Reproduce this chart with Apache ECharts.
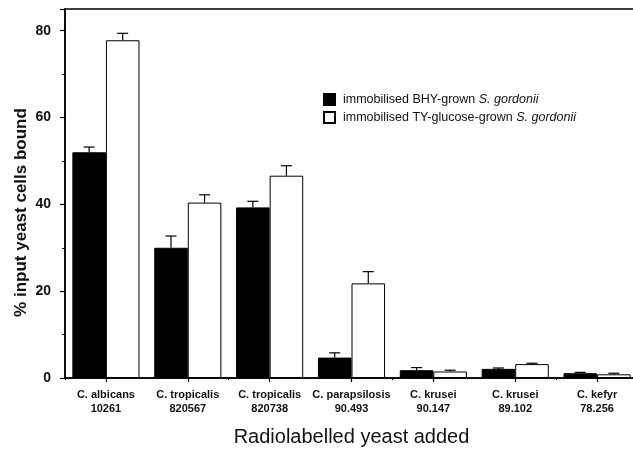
<!DOCTYPE html>
<html>
<head>
<meta charset="utf-8">
<script src="https://cdn.jsdelivr.net/npm/echarts@6/dist/echarts.min.js"></script>
<style>html,body{margin:0;padding:0;background:#fff}#c{width:633px;height:451px}</style>
</head>
<body>
<div id="c"></div>
<script>
var categories = ['C. albicans\n10261','C. tropicalis\n820567','C. tropicalis\n820738','C. parapsilosis\n90.493','C. krusei\n90.147','C. krusei\n89.102','C. kefyr\n78.256'];
var bhyValues = [52.0, 30.0, 39.3, 4.7, 1.8, 2.1, 1.1];
var bhyErrors = [1.2, 2.7, 1.4, 1.1, 0.6, 0.2, 0.2];
var tyValues = [77.8, 40.4, 46.6, 21.8, 1.5, 3.2, 0.85];
var tyErrors = [1.6, 1.8, 2.3, 2.7, 0.3, 0.2, 0.25];
var yTicks = [0, 20, 40, 60, 80];

var FONT = '"Liberation Sans", Arial, sans-serif';
function errData(vals, errs){ return vals.map(function(v,i){ return [i, v, errs[i]]; }); }
function errRender(frac){
  return function(params, api){
    var i = api.value(0), v = api.value(1), e = api.value(2);
    var band = api.size([1,0])[0];
    var p0 = api.coord([i, v]), p1 = api.coord([i, v+e]);
    var cx = p0[0] + frac*band;
    var half = 5.5;
    var st = {stroke:'#000', lineWidth:1.2};
    return {type:'group', children:[
      {type:'line', shape:{x1:cx,y1:p0[1],x2:cx,y2:p1[1]}, style:st},
      {type:'line', shape:{x1:cx-half,y1:p1[1],x2:cx+half,y2:p1[1]}, style:st}
    ]};
  };
}
var chart = echarts.init(document.getElementById('c'), null, {renderer:'canvas'});
chart.setOption({
  animation:false,
  backgroundColor:'#fff',
  grid:{left:65, top:9, width:573, height:369, outerBoundsMode:'none', containLabel:false, show:true, borderColor:'#000', borderWidth:1.5, backgroundColor:'transparent'},
  legend:{
    orient:'vertical', left:318, top:88, itemWidth:11, itemHeight:11, itemGap:5,
    icon:'rect',
    data:['bhy','ty'],
    formatter:function(n){ return n==='bhy' ? '{n|immobilised BHY-grown }{i|S. gordonii}' : '{n|immobilised TY-glucose-grown }{i|S. gordonii}'; },
    textStyle:{fontFamily:FONT, fontSize:12.5, color:'#111', padding:[0,0,0,3],
      rich:{n:{fontFamily:FONT, fontSize:12.5, color:'#111'}, i:{fontFamily:FONT, fontSize:12.5, fontStyle:'italic', color:'#111'}}}
  },
  xAxis:[{
    type:'category', data:categories,
    axisLine:{lineStyle:{color:'#000', width:1.5}},
    axisTick:{show:true, alignWithLabel:true, length:4, lineStyle:{color:'#000', width:1.2}},
    axisLabel:{fontFamily:FONT, fontSize:11, fontWeight:'bold', color:'#111', margin:10, lineHeight:14, interval:0},
    name:'Radiolabelled yeast added', nameLocation:'middle', nameGap:49, nameMoveOverlap:false,
    nameTextStyle:{fontFamily:FONT, fontSize:20, color:'#111'}
  },{
    type:'category', data:categories, position:'bottom',
    axisLine:{show:false}, axisLabel:{show:false},
    axisTick:{show:true, length:2, lineStyle:{color:'#000', width:1}}
  }],
  yAxis:{
    type:'value', min:0, max:85, interval:20,
    axisLine:{show:true, lineStyle:{color:'#000', width:1.5}},
    axisTick:{show:true, length:5, lineStyle:{color:'#000', width:1.2}},
    minorTick:{show:true, splitNumber:2, length:3, lineStyle:{color:'#000', width:1}},
    splitLine:{show:false},
    axisLabel:{fontFamily:FONT, fontSize:14, fontWeight:'bold', color:'#111', margin:14, showMaxLabel:false,
      formatter:function(v){ return yTicks.indexOf(v)>=0 ? String(v) : ''; }},
    name:'% input yeast cells bound', nameLocation:'middle', nameGap:35, nameMoveOverlap:false,
    nameTextStyle:{fontFamily:FONT, fontSize:17, fontWeight:'bold', color:'#111', padding:[0,0,0,-38]}
  },
  series:[
    {name:'bhy', type:'bar', data:bhyValues, barGap:'0%', barCategoryGap:'18%',
      itemStyle:{color:'#000', borderColor:'#000', borderWidth:1}},
    {name:'ty', type:'bar', data:tyValues, barGap:'0%', barCategoryGap:'18%',
      itemStyle:{color:'#fff', borderColor:'#000', borderWidth:1}},
    {name:'bhyErr', type:'custom', data:errData(bhyValues,bhyErrors), encode:{x:0,y:1}, renderItem:errRender(-0.205), z:5},
    {name:'tyErr', type:'custom', data:errData(tyValues,tyErrors), encode:{x:0,y:1}, renderItem:errRender(0.205), z:5}
  ]
});
</script>
</body>
</html>
